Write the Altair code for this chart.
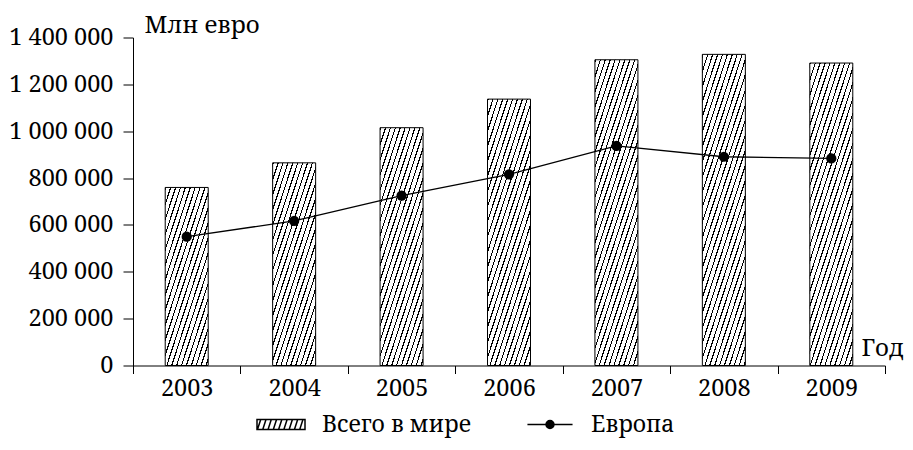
import altair as alt
import pandas as pd

years = ["2003", "2004", "2005", "2006", "2007", "2008", "2009"]
world = [760000, 865000, 1015000, 1137000, 1305000, 1328000, 1291000]
europe = [550000, 617000, 725000, 816000, 937000, 891000, 884000]
y_ticks = [0, 200000, 400000, 600000, 800000, 1000000, 1200000, 1400000]
name_world = "Всего в мире"
name_europe = "Европа"
y_title = "Млн евро"
x_title = "Год"

FONT = "Noto Serif"
FS_LAB = 23.5
FS_TIT = 24
FS_LEG = 23
W, H = 752, 328
YMAX = 1400000
BAR_W = 43

df_w = pd.DataFrame({"year": years, "value": world, "series": name_world})
df_e = pd.DataFrame({"year": years, "value": europe, "series": name_europe})


def hatch(value):
    # diagonal hatching as a hard-stop linear gradient (style only)
    w = float(BAR_W)
    h = value / YMAX * H
    a = 1.0
    b = h / (3.08 * w)
    s = (a + b) / (a * a + b * b)
    period = 4.9
    dt = period * a / (w * (a + b))
    duty = 0.24
    stops = []
    k = 0
    while k * dt < 1:
        t0 = k * dt
        t1 = min(t0 + duty * dt, 1.0)
        t2 = min((k + 1) * dt, 1.0)
        stops += [
            {"offset": round(t0, 5), "color": "black"},
            {"offset": round(t1, 5), "color": "black"},
            {"offset": round(t1, 5), "color": "white"},
            {"offset": round(t2, 5), "color": "white"},
        ]
        k += 1
    return {"gradient": "linear", "x1": 0, "y1": 0,
            "x2": round(a * s, 5), "y2": round(b * s, 5), "stops": stops}


x_enc = alt.X(
    "year:O",
    scale=alt.Scale(domain=years, paddingInner=0, paddingOuter=0),
    axis=alt.Axis(
        title=x_title, labelAngle=0, tickBand="extent", tickSize=8,
        labelPadding=3, labelFontSize=FS_LAB, labelFont=FONT,
        titleFont=FONT, titleFontSize=FS_TIT, titleFontWeight="normal",
        titleAngle=0, titleAlign="left", titleBaseline="alphabetic",
        titleX=728, titleY=-10.5, titleAnchor="start",
    ),
)
y_enc = alt.Y(
    "value:Q",
    scale=alt.Scale(domain=[0, YMAX], nice=False, zero=True),
    axis=alt.Axis(
        title=y_title, values=y_ticks, tickSize=10, labelPadding=10,
        labelFontSize=FS_LAB, labelFont=FONT, grid=False,
        labelExpr="replace(replace(format(datum.value, ','), ',', ' '), ',', ' ')",
        titleFont=FONT, titleFontSize=FS_TIT, titleFontWeight="normal",
        titleAngle=0, titleAlign="left", titleBaseline="alphabetic",
        titleX=11, titleY=-5, titleAnchor="start",
    ),
)

layers = []
for yr, v in zip(years, world):
    layers.append(
        alt.Chart(df_w)
        .transform_filter(alt.datum.year == yr)
        .mark_bar(size=BAR_W, fill=hatch(v), stroke="black", strokeWidth=1)
        .encode(x=x_enc, y=y_enc)
    )

line = alt.Chart(df_e).mark_line(color="black", strokeWidth=1.3).encode(x=x_enc, y=y_enc)
dots = alt.Chart(df_e).mark_point(filled=True, color="black", size=105, opacity=1).encode(x=x_enc, y=y_enc)

hatch_path = "M-1,-0.208H1V0.208H-1Z"
for x0 in [-0.98, -0.76, -0.54, -0.32, -0.10, 0.12, 0.34, 0.56, 0.78]:
    hatch_path += f"M{x0:.3f},0.208L{x0 + 0.135:.3f},-0.208"
dot_path = "M-0.94,0H0.94"
for r in [0.167, 0.125, 0.083, 0.042, 0.013]:
    dot_path += f"M{r},0A{r},{r},0,1,1,{-r},0A{r},{r},0,1,1,{r},0Z"

legend_layer = (
    alt.Chart(df_e)
    .transform_filter("false")
    .mark_point(filled=False, color="black", strokeWidth=1, opacity=1)
    .encode(
        x=x_enc, y=y_enc,
        shape=alt.Shape(
            "series:N",
            scale=alt.Scale(domain=[name_world, name_europe], range=[hatch_path, dot_path]),
            legend=alt.Legend(
                title=None, orient="none", direction="horizontal",
                legendX=123, legendY=362, symbolSize=2304,
                labelFont=FONT, labelFontSize=FS_LEG, labelColor="black",
                labelOffset=16, columnPadding=52, padding=0,
                labelLimit=400, symbolOpacity=1,
            ),
        ),
    )
)

chart = (
    alt.layer(*layers, line, dots, legend_layer)
    .properties(
        width=W, height=H,
        autosize=alt.AutoSizeParams(type="none"),
        padding={"left": 125, "top": 29.5, "right": 20, "bottom": 76},
    )
    .configure_view(stroke=None)
    .configure_axis(
        domainColor="black", tickColor="black", labelColor="black",
        titleColor="black", domainWidth=1, tickWidth=1, grid=False,
    )
)

chart.save("out.html", embed_options={"renderer": "svg", "actions": False})
